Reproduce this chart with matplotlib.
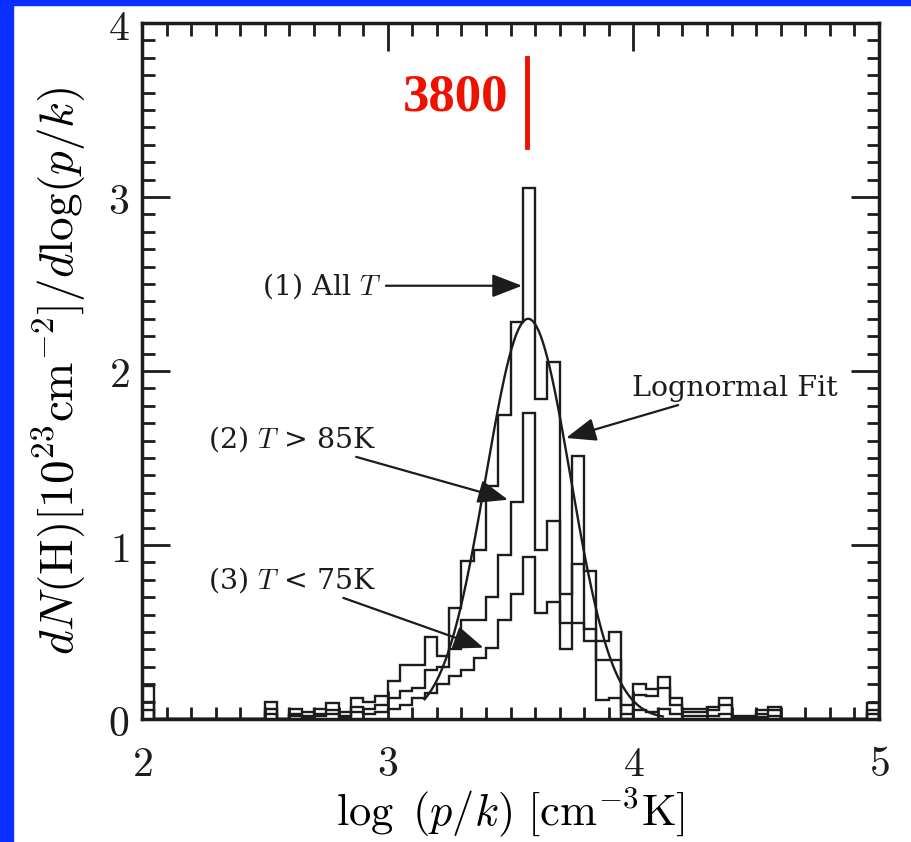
import numpy as np
import matplotlib.pyplot as plt
from matplotlib.patches import Rectangle
from matplotlib.ticker import MultipleLocator

plt.rcParams['mathtext.fontset'] = 'cm'

# histogram bins (log p/k): 2.00 ... 5.00, width 0.05
bin_lo = 2.00
bin_w = 0.05
# (1) All T
all_T = [0.19, 0.00, 0.00, 0.00, 0.00, 0.00, 0.00, 0.00, 0.00, 0.00,
         0.10, 0.00, 0.06, 0.04, 0.06, 0.09, 0.04, 0.12, 0.10, 0.13,
         0.22, 0.31, 0.31, 0.47, 0.36, 0.64, 0.91, 0.97, 1.34, 1.75,
         2.28, 3.05, 1.84, 2.05, 0.72, 1.51, 0.85, 0.45, 0.50, 0.08,
         0.20, 0.17, 0.24, 0.12, 0.06, 0.06, 0.07, 0.12, 0.02, 0.02,
         0.05, 0.07, 0.00, 0.00, 0.00, 0.00, 0.00, 0.00, 0.00, 0.09]
# (2) T > 85K
hot_T = [0.10, 0.00, 0.00, 0.00, 0.00, 0.00, 0.00, 0.00, 0.00, 0.00,
         0.06, 0.00, 0.03, 0.02, 0.03, 0.05, 0.02, 0.07, 0.06, 0.08,
         0.12, 0.16, 0.18, 0.28, 0.30, 0.40, 0.57, 0.57, 0.70, 0.94,
         1.25, 1.76, 0.97, 1.14, 0.55, 0.89, 0.52, 0.34, 0.34, 0.03,
         0.14, 0.13, 0.18, 0.08, 0.04, 0.04, 0.05, 0.08, 0.01, 0.01,
         0.03, 0.05, 0.00, 0.00, 0.00, 0.00, 0.00, 0.00, 0.00, 0.05]
# (3) T < 75K
cold_T = [0.05, 0.00, 0.00, 0.00, 0.00, 0.00, 0.00, 0.00, 0.00, 0.00,
          0.03, 0.00, 0.02, 0.01, 0.02, 0.03, 0.01, 0.04, 0.03, 0.04,
          0.06, 0.08, 0.12, 0.15, 0.20, 0.25, 0.28, 0.35, 0.41, 0.57,
          0.72, 0.93, 0.61, 0.67, 0.40, 0.55, 0.45, 0.11, 0.12, 0.00,
          0.05, 0.04, 0.06, 0.03, 0.02, 0.02, 0.02, 0.03, 0.00, 0.00,
          0.01, 0.02, 0.00, 0.00, 0.00, 0.00, 0.00, 0.00, 0.00, 0.03]
# lognormal fit (gaussian in log p/k)
fit_amp = 2.30
fit_mu = 3.572
fit_sigma = 0.172

marker_val = 3.567
marker_label = "3800"

x_ticks = [2, 3, 4, 5]
y_ticks = [0, 1, 2, 3, 4]

ink = '#1c1c1c'
fig = plt.figure(figsize=(9.12, 8.42), dpi=100)
ax = fig.add_axes([142/912, 1-719/842, (879-142)/912, (719-23)/842])

edges = bin_lo + bin_w*np.arange(len(all_T)+1)
for vals in (all_T, hot_T, cold_T):
    ax.stairs(vals, edges, baseline=0, color=ink, lw=1.7)

xf = np.linspace(3.15, 4.12, 300)
ax.plot(xf, fit_amp*np.exp(-(xf-fit_mu)**2/(2*fit_sigma**2)), color=ink, lw=1.7)

ax.set_xlim(2, 5)
ax.set_ylim(0, 4)
ax.xaxis.set_minor_locator(MultipleLocator(0.1))
ax.yaxis.set_minor_locator(MultipleLocator(0.1))
ax.set_xticks(x_ticks)
ax.set_xticklabels([f"${v}$" for v in x_ticks])
ax.set_yticks(y_ticks)
ax.set_yticklabels([f"${v}$" for v in y_ticks])
ax.tick_params(which='both', direction='in', top=True, right=True, width=2, colors=ink)
ax.tick_params(which='major', length=20, labelsize=30)
ax.tick_params(axis='x', which='major', pad=17)
ax.tick_params(axis='y', which='major', pad=9)
ax.tick_params(which='minor', length=9)
for s in ax.spines.values():
    s.set_linewidth(2.5)
    s.set_color(ink)

ax.set_xlabel(r"$\log\ (p/k)\ [\mathrm{cm}^{-3}\mathrm{K}]$", fontsize=32, labelpad=0)
ax.set_ylabel(r"$dN(\mathrm{H})[10^{23}\mathrm{cm}^{-2}]/d\log(p/k)$", fontsize=34, labelpad=14)

afont = dict(family='DejaVu Serif', fontsize=20.5, color=ink)
ap = dict(arrowstyle='-|>,head_length=0.9,head_width=0.35', color=ink, lw=1.6, shrinkA=1, shrinkB=0)
ax.annotate("(1) All $T$", xy=(3.547, 2.49), xytext=(2.49, 2.49), va='center', ha='left',
            arrowprops=ap, **afont)
ax.annotate("Lognormal Fit", xy=(3.726, 1.615), xytext=(3.995, 1.90), va='center', ha='left',
            arrowprops=ap, **afont)
ax.annotate("(2) $T$ > 85K", xy=(3.49, 1.26), xytext=(2.27, 1.61), va='center', ha='left',
            arrowprops=ap, **afont)
ax.annotate("(3) $T$ < 75K", xy=(3.39, 0.41), xytext=(2.27, 0.80), va='center', ha='left',
            arrowprops=ap, **afont)

ax.plot([marker_val, marker_val], [3.29, 3.80], color='#ee1100', lw=3.5)
ax.text(3.49, 3.57, marker_label, color='#ee1100', fontsize=38, fontweight='bold',
        family='Liberation Serif', ha='right', va='center')

fig.patches.append(Rectangle((0, 0), 13/912, 1, transform=fig.transFigure, color='#0a2eff', zorder=10))
fig.patches.append(Rectangle((0, 1-5/842), 1, 5/842, transform=fig.transFigure, color='#0a2eff', zorder=10))

fig.savefig('out.png', dpi=100)
